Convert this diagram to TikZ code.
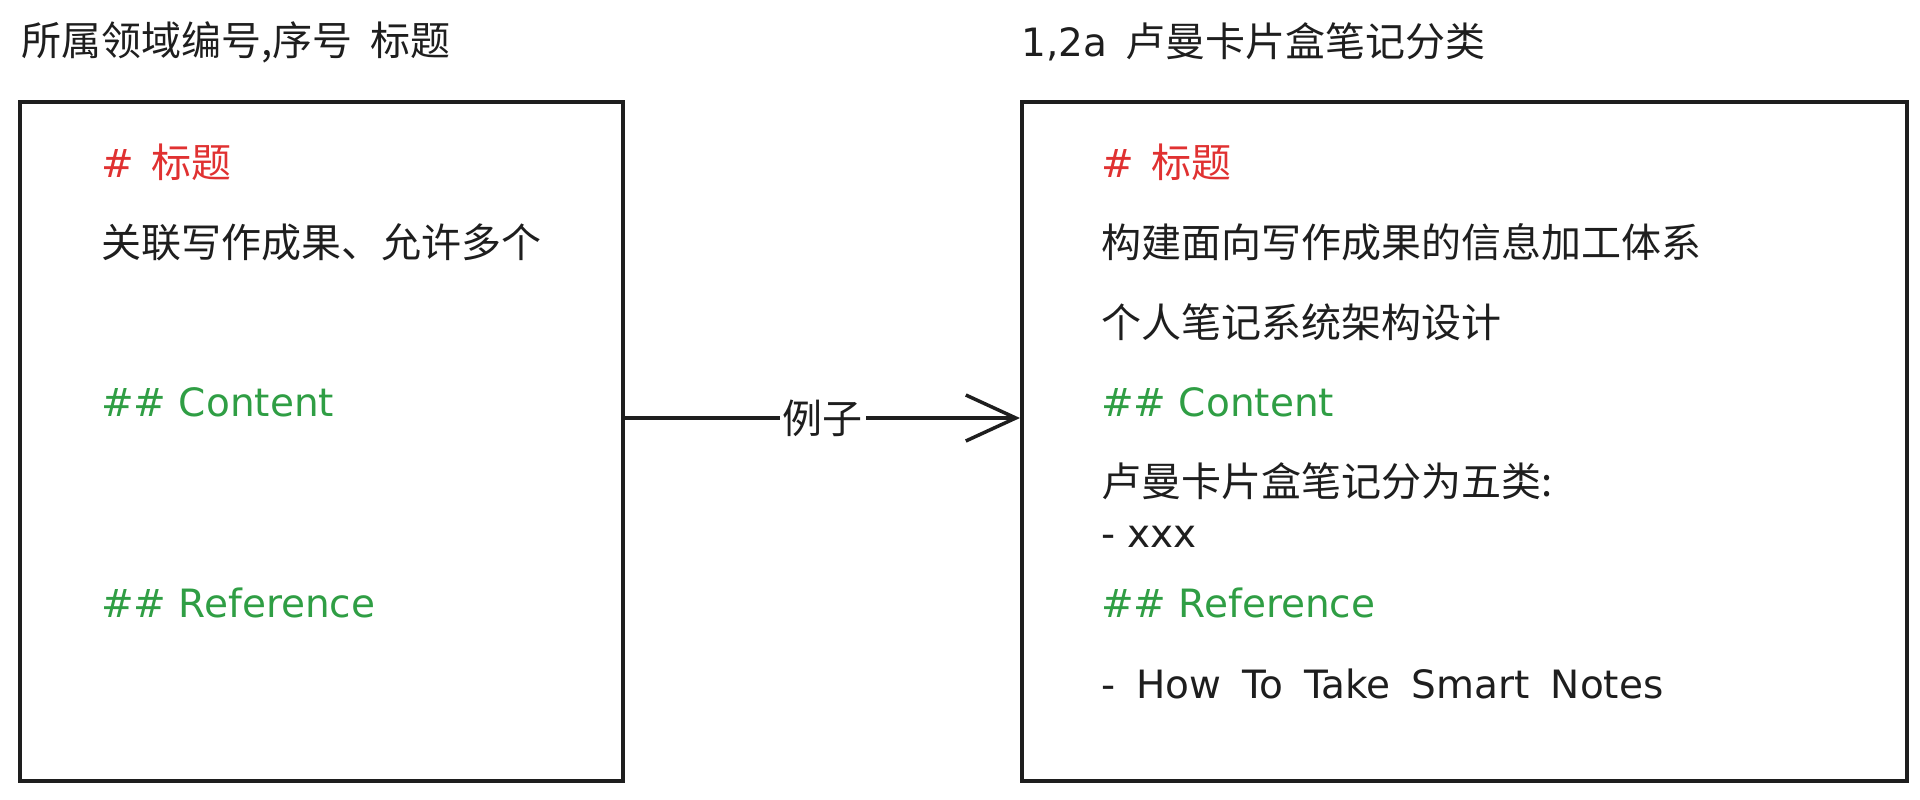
\documentclass[tikz,border=0pt]{standalone}
\usepackage{fontspec}
\setmainfont{Noto Sans CJK SC}
\newfontfamily\hand{DejaVu Sans}
\usetikzlibrary{arrows.meta}

\definecolor{ink}{HTML}{1E1E1E}
\definecolor{inkred}{HTML}{E03131}
\definecolor{inkgreen}{HTML}{2F9E44}

\newcommand{\lat}[1]{{\hand\fontsize{39}{48}\selectfont #1}}

\begin{document}
\begin{tikzpicture}[x=1pt,y=-1pt,
    every node/.style={font=\fontsize{40}{48}\selectfont, text=ink, inner sep=0pt, anchor=west},
    card/.style={draw=ink, line width=4pt, anchor=north west, minimum width=#1, minimum height=679pt},
    hd/.style={text=inkred},
    sub/.style={text=inkgreen}]

    \useasboundingbox (0,0) rectangle (1920,800);

    \node (ltitle) at (21,42) {所属领域编号,序号~~标题};
    \node (rtitle) at (1021,42) {\lat{1,2a}~~卢曼卡片盒笔记分类};



    \node[card=603pt] (lcard) at (18,100) {};

    \node[hd] (lh1) at (101,162) {\lat{\#}~~标题};
    \node (lt1) at (101,242) {关联写作成果、允许多个};
    \node[sub] (lh2) at (101,402) {\lat{\#\# Content}};
    \node[sub] (lh3) at (101,603) {\lat{\#\# Reference}};



    \node[card=885pt] (rcard) at (1020,100) {};

    \node[hd] (rh1) at (1101,162) {\lat{\#}~~标题};
    \node (rt1) at (1101,242) {构建面向写作成果的信息加工体系};
    \node (rt2) at (1101,322) {个人笔记系统架构设计};
    \node[sub] (rh2) at (1101,402) {\lat{\#\# Content}};
    \node (rt3) at (1101,481) {卢曼卡片盒笔记分为五类:};
    \node (rt4) at (1101,537) {\lat{- xxx}};
    \node[sub] (rh3) at (1101,603) {\lat{\#\# Reference}};
    \node (rt5) at (1101,684) {\lat{\spaceskip=21pt - How To Take Smart Notes}};



    \coordinate (ex) at (820,418);
    \draw[draw=ink, line width=3.5pt, -{Straight Barb[length=50pt,width=46pt]}]
      (lcard.east |- ex) -- node[anchor=center, fill=white, inner xsep=3pt] (exlbl) {例子} (rcard.west |- ex);

\end{tikzpicture}
\end{document}
